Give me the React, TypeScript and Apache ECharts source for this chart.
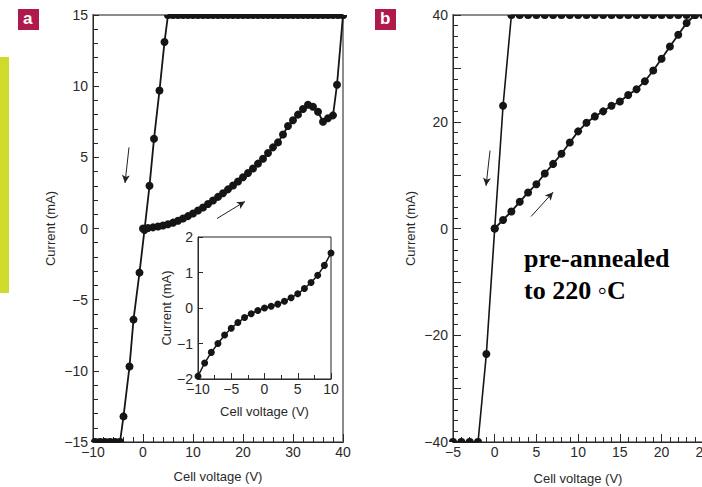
import React, { useEffect, useRef } from "react";
import * as echarts from "echarts";

// Panel a: forward sweep (0 V -> 40 V)
const aForwardV = [0, 1, 2, 3, 4, 5, 6, 7, 8, 9, 10, 11, 12, 13, 14, 15, 16, 17, 18, 19, 20, 21, 22, 23, 24, 25, 26, 27, 28, 29, 30, 31, 32, 33, 34, 35, 36, 37, 38, 38.8, 40];
const aForwardI = [0, 0.03, 0.08, 0.14, 0.21, 0.3, 0.41, 0.54, 0.7, 0.87, 1.05, 1.26, 1.48, 1.72, 1.97, 2.22, 2.48, 2.75, 3.02, 3.3, 3.6, 3.9, 4.22, 4.56, 4.9, 5.3, 5.7, 6.05, 6.6, 7.2, 7.6, 8.0, 8.4, 8.7, 8.55, 8.2, 7.5, 7.75, 7.95, 10.1, 15];
// Panel a: return sweep (40 V -> -10 V), held at the compliance limit at both ends
const aReturnV = [40, 39, 38, 37, 36, 35, 34, 33, 32, 31, 30, 29, 28, 27, 26, 25, 24, 23, 22, 21, 20, 19, 18, 17, 16, 15, 14, 13, 12, 11, 10, 9, 8, 7, 6, 5, 4.3, 3.3, 2.2, 1.3, 0.3, -0.7, -1.9, -2.7, -3.9, -4.6, -5.6, -6.6, -7.6, -8.6, -9.6];
const aReturnI = [15, 15, 15, 15, 15, 15, 15, 15, 15, 15, 15, 15, 15, 15, 15, 15, 15, 15, 15, 15, 15, 15, 15, 15, 15, 15, 15, 15, 15, 15, 15, 15, 15, 15, 15, 15, 13.1, 9.7, 6.3, 3.0, -0.1, -3.1, -6.4, -9.7, -13.2, -15, -15, -15, -15, -15, -15];

// Inset: low-voltage sweep
const insetV = [-10, -9, -8, -7, -6, -5, -4, -3, -2, -1, 0, 1, 2, 3, 4, 5, 6, 7, 8, 9, 10];
const insetI = [-1.92, -1.55, -1.25, -1.0, -0.76, -0.57, -0.41, -0.27, -0.16, -0.07, 0, 0.05, 0.11, 0.19, 0.29, 0.4, 0.55, 0.72, 0.92, 1.2, 1.55];

// Panel b: forward sweep
const bForwardV = [0, 1, 2, 3, 4, 5, 6, 7, 8, 9, 10, 11, 12, 13, 14, 15, 16, 17, 18, 19, 20, 21, 22, 23, 24];
const bForwardI = [0, 1.6, 3.2, 5.0, 6.75, 8.3, 10.3, 12.1, 14.0, 16.1, 18.2, 19.8, 21.0, 21.95, 23.0, 23.8, 25.0, 26.1, 27.6, 29.6, 31.8, 34.1, 36.3, 38.5, 40];
// Panel b: return sweep
const bReturnV = [30, 29, 28, 27, 26, 25, 24, 23, 22, 21, 20, 19, 18, 17, 16, 15, 14, 13, 12, 11, 10, 9, 8, 7, 6, 5, 4, 3, 2, 1, 0, -1, -2, -3, -4, -5];
const bReturnI = [40, 40, 40, 40, 40, 40, 40, 40, 40, 40, 40, 40, 40, 40, 40, 40, 40, 40, 40, 40, 40, 40, 40, 40, 40, 40, 40, 40, 40, 23, 0, -23.5, -40, -40, -40, -40];

const FONT = "'Liberation Sans', Arial, sans-serif";
const INK = "#151515";
const AXIS = "#2a2a2a";
const minus = (v: number) => String(v).replace("-", "\u2212");

// Half discs used for points sitting on the top / bottom edge of a plot frame,
// so the marker is cut by the frame like the rest of the clipped trace.
const LOWER_HALF = "path://M0,0 L2,0 A1,1 0 0 1 0,0 Z";
const UPPER_HALF = "path://M0,1 L2,1 A1,1 0 0 0 0,1 Z";

function points(xs: number[], ys: number[], yMin: number, yMax: number, size: number) {
  return xs.map((x, i) => {
    const y = ys[i];
    if (y >= yMax) return { value: [x, y], symbol: LOWER_HALF, symbolSize: [size, size / 2], symbolOffset: [0, size / 4] };
    if (y <= yMin) return { value: [x, y], symbol: UPPER_HALF, symbolSize: [size, size / 2], symbolOffset: [0, -size / 4] };
    return { value: [x, y] };
  });
}

function label(margin: number, formatter = (v: number) => minus(v)) {
  return { color: AXIS, fontFamily: FONT, fontSize: 14, margin, formatter };
}

function axisBase(extra: any) {
  return {
    type: "value",
    axisLine: { show: true, onZero: false, lineStyle: { color: AXIS, width: 1 } },
    axisTick: { show: true, inside: true, length: 8, lineStyle: { color: AXIS, width: 1 } },
    minorTick: { show: true, length: 5, lineStyle: { color: AXIS, width: 1 } },
    splitLine: { show: false },
    axisLabel: label(4),
    nameTextStyle: { color: AXIS, fontFamily: FONT, fontSize: 13 },
    nameLocation: "middle",
    ...extra,
  };
}

function lineSeries(data: any[], xi: number, yi: number, size: number, width: number, extra: any = {}) {
  return {
    type: "line",
    xAxisIndex: xi,
    yAxisIndex: yi,
    data,
    clip: true,
    symbol: "circle",
    symbolSize: size,
    showSymbol: true,
    lineStyle: { color: INK, width },
    itemStyle: { color: INK },
    ...extra,
  };
}

function arrow(from: number[], to: number[]) {
  return [{ coord: from }, { coord: to }];
}

function arrowMark(lines: any[]) {
  return {
    silent: true,
    symbol: ["none", "arrow"],
    symbolSize: [6, 8],
    label: { show: false },
    lineStyle: { color: "#222", width: 1, type: "solid" },
    data: lines,
  };
}

export default function App() {
  const ref = useRef<HTMLDivElement>(null);

  useEffect(() => {
    if (!ref.current) return;
    const chart = echarts.init(ref.current, undefined, { renderer: "svg" });

    const option: any = {
      animation: false,
      backgroundColor: "#ffffff",
      grid: [
        { left: 93, top: 15, width: 250, height: 427, show: true, borderColor: "#8c8c8c", borderWidth: 2, backgroundColor: "transparent", outerBoundsMode: "none" },
        { left: 198, top: 237, width: 133, height: 142, show: true, borderColor: "#222", borderWidth: 1, backgroundColor: "#ffffff", z: 5, outerBoundsMode: "none" },
        { left: 453, top: 15, width: 292, height: 427, show: true, borderColor: "#8c8c8c", borderWidth: 2, backgroundColor: "transparent", outerBoundsMode: "none" },
      ],
      xAxis: [
        axisBase({ gridIndex: 0, min: -10, max: 40, interval: 10, minorTick: { show: true, splitNumber: 5, length: 5, lineStyle: { color: AXIS } }, name: "Cell voltage (V)", nameGap: 28, axisLabel: label(3) }),
        axisBase({ gridIndex: 1, min: -10, max: 10, interval: 5, minorTick: { show: true, splitNumber: 2, length: 4, lineStyle: { color: AXIS } }, axisTick: { show: true, inside: true, length: 6, lineStyle: { color: AXIS } }, name: "Cell voltage (V)", nameGap: 26, axisLabel: label(3), z: 6 }),
        axisBase({ gridIndex: 2, min: -5, max: 30, interval: 5, minorTick: { show: true, splitNumber: 5, length: 5, lineStyle: { color: AXIS } }, name: "Cell voltage (V)", nameGap: 30, nameTextStyle: { color: AXIS, fontFamily: FONT, fontSize: 13, padding: [0, 42, 0, 0] }, axisLabel: label(3) }),
      ],
      yAxis: [
        axisBase({ gridIndex: 0, min: -15, max: 15, interval: 5, minorTick: { show: true, splitNumber: 5, length: 5, lineStyle: { color: AXIS } }, axisTick: { show: true, inside: true, length: 6, lineStyle: { color: AXIS } }, name: "Current (mA)", nameGap: 36, axisLabel: label(5) }),
        axisBase({ gridIndex: 1, min: -2, max: 2, interval: 1, minorTick: { show: false }, axisTick: { show: true, inside: true, length: 5, lineStyle: { color: AXIS } }, name: "Current (mA)", nameGap: 25, axisLabel: label(5), z: 6 }),
        axisBase({ gridIndex: 2, min: -40, max: 40, interval: 10, minorTick: { show: true, splitNumber: 5, length: 5, lineStyle: { color: AXIS } }, axisTick: { show: true, inside: true, length: 8, lineStyle: { color: AXIS } }, name: "Current (mA)", nameGap: 36, axisLabel: label(5, (v: number) => (v % 20 === 0 ? minus(v) : "")) }),
      ],
      series: [
        lineSeries(points(aForwardV, aForwardI, -15, 15, 8), 0, 0, 8, 1.8, {
          markLine: arrowMark([arrow([-2.8, 5.7], [-3.6, 3.2]), arrow([14.8, 0.7], [20.4, 1.9])]),
        }),
        lineSeries(points(aReturnV, aReturnI, -15, 15, 8), 0, 0, 8, 1.8),
        lineSeries(points(insetV, insetI, -2, 2, 7), 1, 1, 7, 1.5, { z: 7 }),
        lineSeries(points(bForwardV, bForwardI, -40, 40, 8), 2, 2, 8, 1.8, {
          markLine: arrowMark([arrow([-0.56, 14.6], [-1.04, 8.0]), arrow([4.36, 2.25], [7.0, 6.8])]),
        }),
        lineSeries(points(bReturnV, bReturnI, -40, 40, 8), 2, 2, 8, 1.6),
      ],
      graphic: [
        { type: "rect", left: 0, top: 57, shape: { width: 9, height: 236 }, style: { fill: "#cedb2a" } },
        { type: "rect", left: 18, top: 9, shape: { width: 21, height: 21 }, style: { fill: "#b0194c" } },
        { type: "text", left: 23, top: 10, style: { text: "a", fill: "#ffffff", font: "bold 17px 'Liberation Sans', sans-serif" } },
        { type: "rect", left: 375, top: 9, shape: { width: 21, height: 21 }, style: { fill: "#b0194c" } },
        { type: "text", left: 380, top: 10, style: { text: "b", fill: "#ffffff", font: "bold 17px 'Liberation Sans', sans-serif" } },
        {
          type: "text",
          left: 524,
          top: 242,
          z: 10,
          style: { text: "pre-annealed\nto 220 \u25E6C", fill: "#000000", font: "bold 26px 'Liberation Serif', 'Times New Roman', serif", lineHeight: 32 },
        },
      ],
    };

    chart.setOption(option);
    return () => chart.dispose();
  }, []);

  return <div ref={ref} style={{ position: "fixed", left: 0, top: 0, width: 702, height: 487, background: "#fff" }} />;
}
